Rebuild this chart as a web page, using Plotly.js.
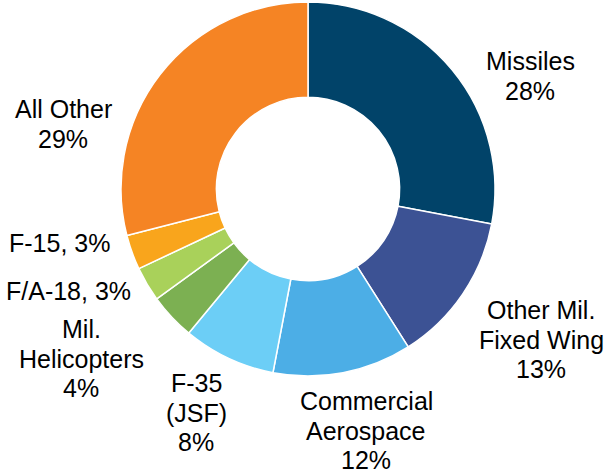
<!DOCTYPE html>
<html>
<head>
<meta charset="utf-8">
<script src="https://cdn.plot.ly/plotly-3.0.1.min.js"></script>
<style>html,body{margin:0;padding:0;background:#fff;}#chart{width:608px;height:475px;}</style>
</head>
<body>
<div id="chart"></div>
<script>
// Data
const categories = ["Missiles", "Other Mil. Fixed Wing", "Commercial Aerospace", "F-35 (JSF)", "Mil. Helicopters", "F/A-18", "F-15", "All Other"];
const values = [28, 13, 12, 8, 4, 3, 3, 29];
const labelLines = [["Missiles"], ["Other Mil.", "Fixed Wing"], ["Commercial", "Aerospace"], ["F-35", "(JSF)"], ["Mil.", "Helicopters"], ["F/A-18"], ["F-15"], ["All Other"]];
const inlineValue = [false, false, false, false, false, true, true, false];
const colors = ["#014369", "#3c5294", "#4caee6", "#6ccef6", "#7cb052", "#a9d15a", "#f9a51c", "#f58424"];

// Label placement (pixel centre x, first baseline y)
const labelPos = [[530, 70], [541, 319], [366, 410], [196, 392], [81, 338], [68, 300], [59, 252], [63, 118]];

const W = 608, H = 475;
const FS = 25, LS = 29.6;
const cx = 308, cy = 189, R = 187;

const total = values.reduce((a, b) => a + b, 0);
const annotations = [];
categories.forEach((c, i) => {
  const pct = Math.round(values[i] / total * 100) + "%";
  let lines;
  if (inlineValue[i]) {
    lines = [labelLines[i][0] + ", " + pct];
  } else {
    lines = labelLines[i].concat([pct]);
  }
  lines.forEach((ln, j) => {
    const base = labelPos[i][1] + j * LS;
    const ymid = base - 0.35 * FS;
    annotations.push({
      xref: "paper", yref: "paper",
      x: labelPos[i][0] / W, y: 1 - ymid / H,
      xanchor: "center", yanchor: "middle",
      text: ln, showarrow: false, borderpad: 0,
      font: {family: "Liberation Sans, Arial, sans-serif", size: FS, color: "#000000"}
    });
  });
});

const trace = {
  type: "pie",
  labels: categories,
  values: values,
  hole: 0.49,
  sort: false,
  direction: "clockwise",
  rotation: 0,
  textinfo: "none",
  hoverinfo: "label+percent",
  marker: {colors: colors, line: {color: "#ffffff", width: 1.5}},
  domain: {x: [(cx - R) / W, (cx + R) / W], y: [1 - (cy + R) / H, 1 - (cy - R) / H]}
};

const layout = {
  width: W, height: H,
  margin: {l: 0, r: 0, t: 0, b: 0},
  showlegend: false,
  paper_bgcolor: "#ffffff",
  plot_bgcolor: "#ffffff",
  annotations: annotations
};

Plotly.newPlot("chart", [trace], layout, {displayModeBar: false, staticPlot: true});
</script>
</body>
</html>
